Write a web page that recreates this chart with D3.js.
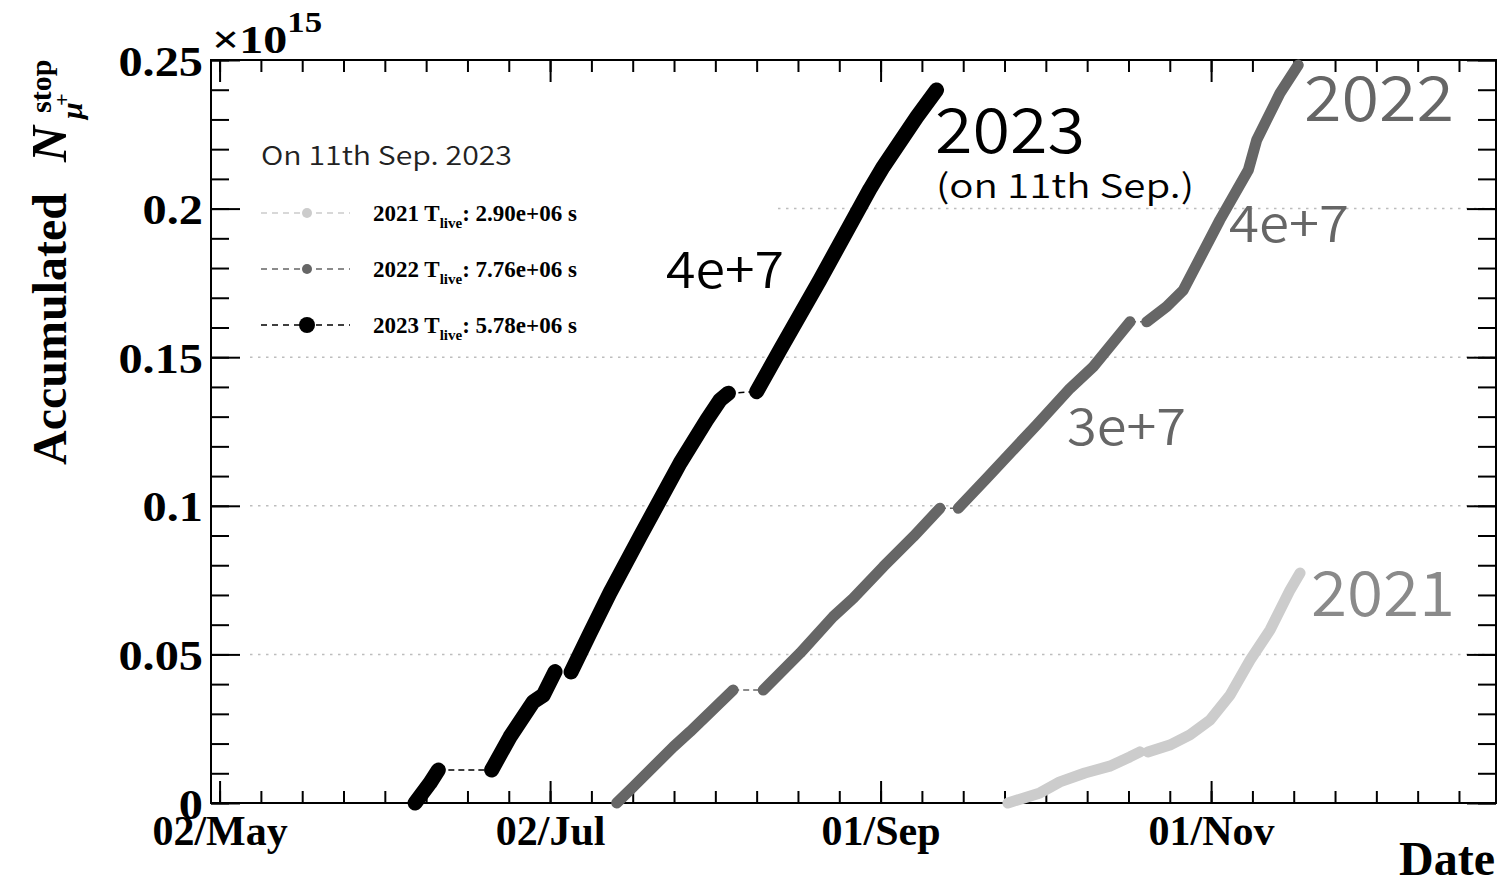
<!DOCTYPE html>
<html>
<head>
<meta charset="utf-8">
<script src="https://cdn.jsdelivr.net/npm/d3@7"></script>
<style>
  body { margin: 0; background: #fff; }
  svg { display: block; }
</style>
</head>
<body>
<svg id="chart" width="1500" height="883"></svg>
<script>
// ---- data: accumulated stopped mu+ (units of 1e15), one array per run period ----
// dates are "MM-DD HH"; every year is laid onto the same calendar axis
const run2021 = [
  [["09-24 12", 0.0000], ["09-30 10", 0.0034], ["10-04 02", 0.0071], ["10-08 17", 0.0101],
   ["10-13 07", 0.0124], ["10-17 00", 0.0155], ["10-18 21", 0.0172]],
  [["10-20 08", 0.0172], ["10-24 09", 0.0195], ["10-28 02", 0.0229], ["10-31 19", 0.0279],
   ["11-04 12", 0.0363], ["11-08 05", 0.0481], ["11-11 21", 0.0582], ["11-15 14", 0.0717],
   ["11-17 10", 0.0774]]
];
const run2022 = [
  [["07-14 07", 0.0000], ["07-17 09", 0.0055], ["07-24 18", 0.0189], ["07-27 20", 0.0240],
   ["08-04 19", 0.0380]],
  [["08-10 08", 0.0380], ["08-17 03", 0.0504], ["08-23 06", 0.0627], ["08-26 23", 0.0689],
   ["09-01 12", 0.0795], ["09-07 01", 0.0896], ["09-11 23", 0.0992]],
  [["09-15 08", 0.0992], ["09-20 14", 0.1093], ["09-29 19", 0.1272], ["10-05 23", 0.1395],
   ["10-10 06", 0.1468], ["10-17 01", 0.1619]],
  [["10-20 03", 0.1619], ["10-23 19", 0.1670], ["10-26 21", 0.1726], ["11-02 15", 0.1962],
   ["11-07 21", 0.2130], ["11-09 10", 0.2231], ["11-13 17", 0.2388], ["11-17 02", 0.2483]]
];
const run2023 = [
  [["06-07 02", 0.0000], ["06-09 20", 0.0067], ["06-11 09", 0.0111]],
  [["06-21 05", 0.0111], ["06-24 14", 0.0222], ["06-28 22", 0.0341], ["06-30 18", 0.0363],
   ["07-02 22", 0.0442]],
  [["07-05 21", 0.0441], ["07-09 09", 0.0572], ["07-13 01", 0.0707], ["07-18 14", 0.0896],
   ["07-26 00", 0.1144], ["07-30 22", 0.1289], ["08-02 09", 0.1356], ["08-03 22", 0.1379]],
  [["08-09 03", 0.1384], ["08-13 10", 0.1524], ["08-20 19", 0.1760], ["08-30 01", 0.2066],
   ["09-01 12", 0.2141], ["09-07 17", 0.2309], ["09-11 08", 0.2399]]
];

const legendYears = ["2021", "2022", "2023"];
const legendLive  = ["2.90e+06", "7.76e+06", "5.78e+06"];

const xMajorDates  = ["05-02 00", "07-02 00", "09-01 00", "11-01 00"];
const xMajorLabels = ["02/May", "02/Jul", "01/Sep", "01/Nov"];
const yMajorValues = [0, 0.05, 0.1, 0.15, 0.2, 0.25];
const yMajorLabels = ["0", "0.05", "0.1", "0.15", "0.2", "0.25"];
const gridValues   = [0.05, 0.1, 0.15, 0.2];

// ---- layout ----
const parseDay = s => d3.utcParse("%Y-%m-%d %H")("2023-" + s);
const frame = { left: 211, right: 1496, top: 60, bottom: 803 };
const svg = d3.select("#chart");
const serif = "'Liberation Serif', 'Times New Roman', serif";
const sans = "'Noto Sans CJK JP', 'Noto Sans', sans-serif";

const x = d3.scaleUtc()
  .domain([new Date(Date.UTC(2023, 3, 30, 10)), new Date(Date.UTC(2023, 11, 23, 14))])
  .range([frame.left, frame.right]);
const y = d3.scaleLinear().domain([0, 0.25]).range([frame.bottom, frame.top]);

// ---- dotted horizontal grid ----
svg.append("g").selectAll("line").data(gridValues).join("line")
  .attr("x1", 250).attr("x2", frame.right)
  .attr("y1", d => y(d)).attr("y2", d => y(d))
  .attr("stroke", "#bdbdbd").attr("stroke-width", 1.5)
  .attr("stroke-dasharray", "2.5 5.5");

// legend pad (white, hides grid behind it)
svg.append("rect").attr("x", 245).attr("y", 118).attr("width", 528).attr("height", 228)
  .attr("fill", "#fff");

// ---- axes ----
const majorDates = xMajorDates.map(parseDay);
const stepMs = (majorDates[1] - majorDates[0]) / 8;
const minorDates = d3.range(0, 31).map(k => new Date(+majorDates[0] + k * stepMs));
const minorVals = d3.range(0, 26).map(k => k * 0.01);

function styleAxis(g) {
  g.select(".domain").remove();
  g.selectAll(".tick line").attr("stroke", "#000").attr("stroke-width", 2);
}

// bottom
svg.append("g").attr("transform", `translate(0,${frame.bottom})`)
  .call(d3.axisBottom(x).tickValues(minorDates).tickSize(-12).tickFormat(""))
  .call(styleAxis);
svg.append("g").attr("transform", `translate(0,${frame.bottom})`)
  .call(d3.axisBottom(x).tickValues(majorDates).tickSize(-22).tickPadding(12)
    .tickFormat((d, i) => xMajorLabels[i]))
  .call(styleAxis)
  .call(g => g.selectAll("text").attr("font-family", serif).attr("font-weight", "bold")
    .attr("font-size", 42).attr("fill", "#000"));
// top
svg.append("g").attr("transform", `translate(0,${frame.top})`)
  .call(d3.axisTop(x).tickValues(minorDates).tickSize(-12).tickFormat(""))
  .call(styleAxis);
svg.append("g").attr("transform", `translate(0,${frame.top})`)
  .call(d3.axisTop(x).tickValues(majorDates).tickSize(-22).tickFormat(""))
  .call(styleAxis);
// left
svg.append("g").attr("transform", `translate(${frame.left},0)`)
  .call(d3.axisLeft(y).tickValues(minorVals).tickSize(-18).tickFormat(""))
  .call(styleAxis);
svg.append("g").attr("transform", `translate(${frame.left},0)`)
  .call(d3.axisLeft(y).tickValues(yMajorValues).tickSize(-29).tickPadding(0)
    .tickFormat((d, i) => yMajorLabels[i]))
  .call(styleAxis)
  .call(g => g.selectAll("text").attr("font-family", serif).attr("font-weight", "bold")
    .attr("font-size", 42).attr("fill", "#000").attr("dy", "0.36em")
    .attr("x", -7).attr("transform", "scale(1.15,1)"));
// right
svg.append("g").attr("transform", `translate(${frame.right},0)`)
  .call(d3.axisRight(y).tickValues(minorVals).tickSize(-18).tickFormat(""))
  .call(styleAxis);
svg.append("g").attr("transform", `translate(${frame.right},0)`)
  .call(d3.axisRight(y).tickValues(yMajorValues).tickSize(-29).tickFormat(""))
  .call(styleAxis);

// frame
svg.append("rect")
  .attr("x", frame.left).attr("y", frame.top)
  .attr("width", frame.right - frame.left).attr("height", frame.bottom - frame.top)
  .attr("fill", "none").attr("stroke", "#000").attr("stroke-width", 2);

// exponent
const expo = svg.append("text").attr("transform", "translate(212,53) scale(1.2,1)")
  .attr("font-family", serif).attr("font-weight", "bold").attr("font-size", 40);
expo.append("tspan").text("×10");
expo.append("tspan").attr("font-size", 29).attr("dy", -21).text("15");

// axis titles
svg.append("text").attr("x", 1495).attr("y", 875).attr("text-anchor", "end")
  .attr("font-family", serif).attr("font-weight", "bold").attr("font-size", 48).text("Date");

const yt = svg.append("g").attr("transform", "translate(66,465) rotate(-90)")
  .attr("font-family", serif).attr("font-weight", "bold");
yt.append("text").attr("x", 0).attr("y", 0).attr("font-size", 48).text("Accumulated");
yt.append("text").attr("x", 303).attr("y", 0).attr("font-size", 50)
  .attr("font-style", "italic").text("N");
yt.append("text").attr("x", 352).attr("y", -15).attr("font-size", 30).text("stop");
yt.append("text").attr("x", 346).attr("y", 16).attr("font-size", 30)
  .attr("font-style", "italic").text("μ");
yt.append("text").attr("x", 359).attr("y", 3).attr("font-size", 22).text("+");

// ---- curves ----
const series = [
  { runs: run2021, color: "#cccccc", width: 11 },
  { runs: run2022, color: "#666666", width: 11 },
  { runs: run2023, color: "#000000", width: 15 }
];
const line = d3.line().x(d => x(parseDay(d[0]))).y(d => y(d[1]));

series.forEach(s => {
  const g = svg.append("g");
  // dashed bridges between consecutive run periods
  for (let i = 0; i < s.runs.length - 1; i++) {
    const a = s.runs[i][s.runs[i].length - 1], b = s.runs[i + 1][0];
    g.append("path").attr("d", line([a, b]))
      .attr("fill", "none").attr("stroke", s.color).attr("stroke-width", 1.5)
      .attr("stroke-dasharray", "6 4");
  }
  g.selectAll("path.run").data(s.runs).join("path").attr("class", "run")
    .attr("d", line)
    .attr("fill", "none").attr("stroke", s.color).attr("stroke-width", s.width)
    .attr("stroke-linecap", "round").attr("stroke-linejoin", "round");
});

// ---- annotations ----
const notes = [
  { t: "2023", x: 935, y: 153, size: 62, w: 150, c: "#000" },
  { t: "(on 11th Sep.)", x: 936, y: 198, size: 33, w: 258, c: "#000" },
  { t: "4e+7", x: 666, y: 288, size: 50, w: 118, c: "#000" },
  { t: "2022", x: 1304, y: 121, size: 62, w: 150, c: "#666" },
  { t: "4e+7", x: 1229, y: 242, size: 50, w: 120, c: "#666" },
  { t: "3e+7", x: 1067, y: 445, size: 50, w: 119, c: "#666" },
  { t: "2021", x: 1311, y: 616, size: 62, w: 144, c: "#8a8a8a" }
];
svg.append("g").selectAll("text").data(notes).join("text")
  .attr("x", d => d.x).attr("y", d => d.y)
  .attr("font-family", sans).attr("font-weight", 350)
  .attr("font-size", d => d.size).attr("fill", d => d.c)
  .attr("textLength", d => d.w).attr("lengthAdjust", "spacingAndGlyphs")
  .text(d => d.t);

// ---- legend ----
svg.append("text").attr("x", 261).attr("y", 165)
  .attr("font-family", sans).attr("font-weight", 350).attr("font-size", 26)
  .attr("textLength", 251).attr("lengthAdjust", "spacingAndGlyphs")
  .attr("fill", "#222").text("On 11th Sep. 2023");

const legendRows = [213, 269, 325];
const legendR = [5, 5, 8];
legendYears.forEach((yr, i) => {
  const s = series[i], cy = legendRows[i];
  svg.append("line").attr("x1", 261).attr("x2", 350).attr("y1", cy).attr("y2", cy)
    .attr("stroke", s.color).attr("stroke-width", 1.5).attr("stroke-dasharray", "6 5");
  svg.append("circle").attr("cx", 307).attr("cy", cy).attr("r", legendR[i]).attr("fill", s.color);
  const t = svg.append("text").attr("x", 373).attr("y", cy + 8)
    .attr("font-family", serif).attr("font-weight", "bold").attr("font-size", 23).attr("fill", "#000");
  t.append("tspan").text(yr + " T");
  t.append("tspan").attr("font-size", 15).attr("dy", 7).text("live");
  t.append("tspan").attr("dy", -7).text(": " + legendLive[i] + " s");
});
</script>
</body>
</html>
